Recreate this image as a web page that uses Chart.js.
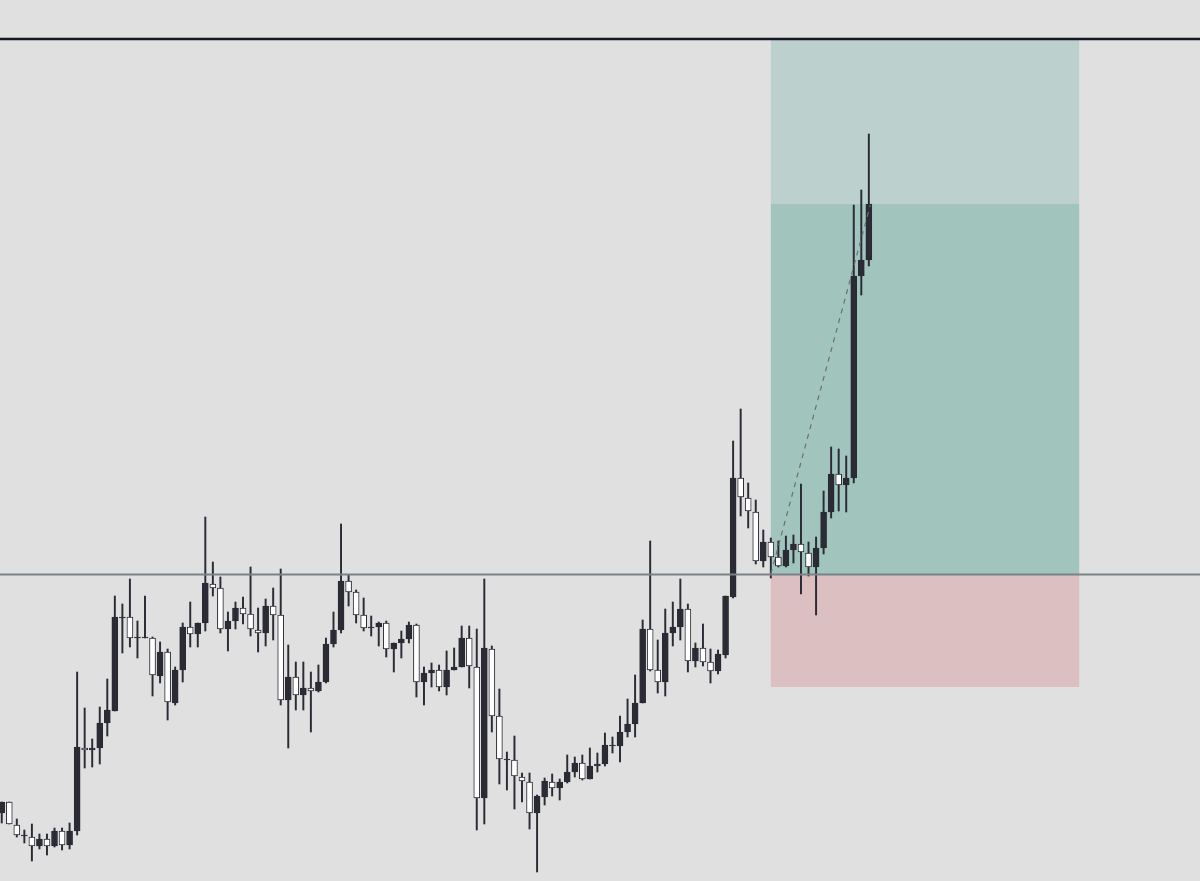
<!DOCTYPE html>
<html>
<head>
<meta charset="utf-8">
<script src="https://cdn.jsdelivr.net/npm/chart.js@4.4.1/dist/chart.umd.min.js"></script>
<style>
html,body{margin:0;padding:0;background:#e0e0e0;overflow:hidden;}
#wrap{width:1200px;height:881px;}
canvas{display:block;}
</style>
</head>
<body>
<div id="wrap"><canvas id="c" width="1200" height="881"></canvas></div>
<script>
// Candle data (price units)
const opens  = [68,79,56,45,44,35,42,35,50,36,50,133,131,133,158,170,263,264,243,243,243,205,229,178,211,254,247,258,297,293,252,260,273,267,251,248,275,266,181,204,186,193,190,199,237,251,300,289,266,253,254,258,232,238,242,256,199,208,211,194,211,214,243,214,83,232,165,121,121,104,99,68,84,99,93,99,109,118,102,115,117,135,135,149,157,178,252,211,199,248,254,272,220,233,219,210,226,284,403,383,369,320,339,324,315,331,337,328,314,333,369,407,396,403,605,621];
const highs  = [79,79,62,51,57,47,47,53,53,58,209,173,142,174,202,285,277,302,260,285,244,239,232,214,258,279,258,364,319,304,269,279,284,314,273,282,293,312,236,219,219,209,216,243,269,357,306,291,283,265,259,260,238,250,259,257,214,218,216,230,233,255,255,252,302,235,192,129,145,108,108,86,103,107,102,126,124,126,133,128,148,144,165,182,206,261,340,241,272,279,302,277,238,257,232,231,285,440,472,398,381,351,343,340,345,346,397,339,344,390,434,432,425,676,691,747];
const lows   = [58,57,44,38,20,32,26,34,31,32,46,113,114,117,145,170,228,234,223,243,185,198,161,176,199,234,234,250,285,248,230,252,257,245,229,235,241,176,133,171,171,149,189,198,234,248,275,258,250,245,235,224,209,223,238,184,176,194,190,186,211,214,193,51,57,149,97,91,72,79,52,9,76,85,81,98,104,101,102,109,115,128,119,144,144,178,210,188,185,235,241,209,214,215,198,207,223,283,365,353,317,314,303,314,314,318,287,305,266,327,363,370,369,398,586,615];
const closes = [79,57,46,46,35,42,35,50,36,50,134,131,133,158,171,264,264,243,244,244,206,229,179,211,254,247,258,298,293,252,260,273,267,252,248,275,266,181,204,186,193,190,199,237,251,300,289,266,253,254,258,232,238,242,256,199,208,211,194,211,214,243,215,83,233,165,122,122,105,100,68,85,100,93,99,109,118,102,115,117,136,136,149,157,178,252,211,199,248,254,272,220,233,219,210,227,285,403,384,370,320,339,324,315,331,337,329,314,333,369,407,396,403,605,621,677];

// Long-position tool levels (price units) and bar span
const positionBars = [102, 142.9];
const entryPrice  = 306.5;
const targetPrice = 677;
const stopPrice   = 194;
const paneTop     = 841;
const paneBorder  = 842;
const trendFrom   = [102, 307];
const trendTo     = [115.2, 676];

const xMin = -0.23, xMax = 158.92;
const yMin = 0, yMax = 881;

const UP = '#2a2b35', DOWN = '#ffffff', EDGE = '#2a2b35';
const idx = opens.map((_, i) => i);

const boxPlugin = {
  id: 'boxes',
  beforeDraw(chart) {
    const c = chart.ctx;
    c.save();
    c.fillStyle = '#e0e0e0';
    c.fillRect(0, 0, chart.width, chart.height);
    c.restore();
  },
  beforeDatasetsDraw(chart) {
    const c = chart.ctx, x = chart.scales.x, y = chart.scales.y;
    const l = x.getPixelForValue(positionBars[0]);
    const r = x.getPixelForValue(positionBars[1]);
    const rect = (p1, p2, col) => {
      const a = y.getPixelForValue(p1), b = y.getPixelForValue(p2);
      c.fillStyle = col;
      c.fillRect(l, Math.min(a, b), r - l, Math.abs(b - a));
    };
    c.save();
    rect(targetPrice, paneTop, '#bcd0cd');
    rect(entryPrice, targetPrice, '#a1c5bd');
    rect(stopPrice, entryPrice, '#dcbfc1');
    c.restore();
  }
};

new Chart(document.getElementById('c'), {
  type: 'bar',
  data: {
    datasets: [
      {
        type: 'line', order: 0,
        data: [{x: xMin, y: paneBorder}, {x: xMax, y: paneBorder}],
        borderColor: '#131722', borderWidth: 2.4, pointRadius: 0
      },
      {
        type: 'line', order: 0,
        data: [{x: xMin, y: entryPrice}, {x: xMax, y: entryPrice}],
        borderColor: '#7a8187', borderWidth: 1.8, pointRadius: 0
      },
      {
        type: 'line', order: 0,
        data: [{x: trendFrom[0], y: trendFrom[1]}, {x: trendTo[0], y: trendTo[1]}],
        borderColor: '#6e6e6e', borderWidth: 1.2, borderDash: [5, 5], pointRadius: 0
      },
      {
        type: 'bar', order: 1,
        data: idx.map(i => ({x: i, y: [opens[i], closes[i]]})),
        backgroundColor: idx.map(i => closes[i] >= opens[i] ? UP : DOWN),
        borderColor: EDGE, borderWidth: 1, borderSkipped: false,
        barThickness: 6, grouped: false
      },
      {
        type: 'bar', order: 2,
        data: idx.map(i => ({x: i, y: [lows[i], highs[i]]})),
        backgroundColor: EDGE, borderWidth: 0,
        barThickness: 1.3, grouped: false
      }
    ]
  },
  options: {
    responsive: false,
    animation: false,
    devicePixelRatio: 1,
    events: [],
    layout: { padding: 0 },
    plugins: { legend: { display: false }, tooltip: { enabled: false } },
    scales: {
      x: { type: 'linear', min: xMin, max: xMax, offset: false, display: false },
      y: { type: 'linear', min: yMin, max: yMax, display: false }
    }
  },
  plugins: [boxPlugin]
});
</script>
</body>
</html>
